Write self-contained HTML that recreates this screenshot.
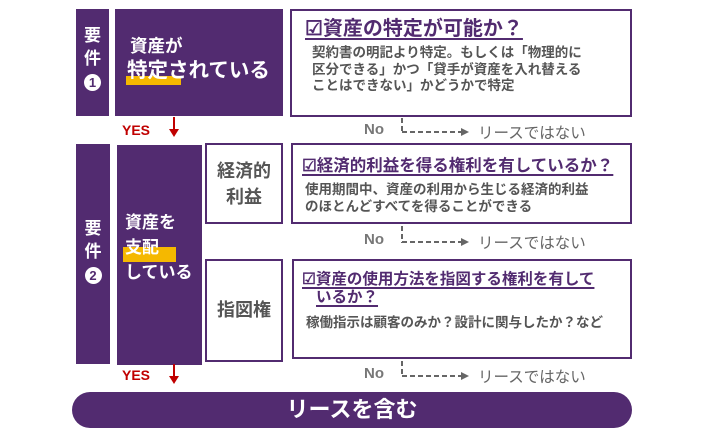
<!DOCTYPE html>
<html><head><meta charset="utf-8"><style>
body{margin:0;width:721px;height:437px;background:#fff;position:relative;overflow:hidden;font-family:"Liberation Sans","Noto Sans CJK JP",sans-serif;font-weight:bold}
.a{position:absolute}
.p{background:#522b70;color:#fff}
.b{border:2px solid #522b70;box-sizing:border-box;background:#fff}
.t{color:#522b70;text-decoration:underline;text-decoration-thickness:2px;text-underline-offset:3px;white-space:nowrap}
.g{color:#555;white-space:nowrap}
.y{background:#f5b800}
.red{color:#c00000}
</style></head><body>
<!-- row 1 -->
<div class="a p" style="left:76px;top:9px;width:33px;height:107px"></div>
<div class="a" style="left:76px;top:24px;width:33px;text-align:center;color:#fff;font-size:17px;line-height:23px">要<br>件<br><span style="display:inline-block;width:17px;height:17px;border-radius:50%;background:#fff;color:#522b70;font-size:13px;line-height:17px">1</span></div>
<div class="a p" style="left:115px;top:9px;width:168px;height:107px"></div>
<div class="a y" style="left:126px;top:76px;width:55px;height:9px"></div>
<div class="a" style="left:130px;top:35px;color:#fff;font-size:17.5px;line-height:22px">資産が</div>
<div class="a" style="left:127px;top:58px;color:#fff;font-size:20.5px;line-height:26px;white-space:nowrap">特定されている</div>
<div class="a b" style="left:290px;top:9px;width:342px;height:108px"></div>
<div class="a t" style="left:305px;top:17px;font-size:20px;line-height:25px">☑資産の特定が可能か？</div>
<div class="a g" style="left:312px;top:45px;font-size:13.5px;line-height:16.5px">契約書の明記より特定。もしくは「物理的に<br>区分できる」かつ「貸手が資産を入れ替える<br>ことはできない」かどうかで特定</div>
<!-- row 2 -->
<div class="a p" style="left:76px;top:144px;width:34px;height:220px"></div>
<div class="a" style="left:76px;top:217px;width:34px;text-align:center;color:#fff;font-size:17px;line-height:23px">要<br>件<br><span style="display:inline-block;width:17px;height:17px;border-radius:50%;background:#fff;color:#522b70;font-size:13px;line-height:17px">2</span></div>
<div class="a p" style="left:117px;top:145px;width:85px;height:220px"></div>
<div class="a y" style="left:123px;top:247px;width:53px;height:15px"></div>
<div class="a" style="left:125px;top:210px;color:#fff;font-size:17px;line-height:25px;white-space:nowrap">資産を<br>支配<br>している</div>
<div class="a b" style="left:205px;top:143px;width:78px;height:81px;text-align:center;color:#555;font-size:18px;line-height:26px;padding-top:13px">経済的<br>利益</div>
<div class="a b" style="left:205px;top:259px;width:78px;height:103px;text-align:center;color:#555;font-size:18px;line-height:26px;padding-top:36px">指図権</div>
<div class="a b" style="left:291px;top:143px;width:341px;height:81px"></div>
<div class="a t" style="left:302px;top:156px;font-size:16.5px;line-height:21px">☑経済的利益を得る権利を有しているか？</div>
<div class="a g" style="left:305px;top:181px;font-size:13.5px;line-height:17px">使用期間中、資産の利用から生じる経済的利益<br>のほとんどすべてを得ることができる</div>
<div class="a b" style="left:292px;top:259px;width:340px;height:100px"></div>
<div class="a t" style="left:302px;top:271px;font-size:15.5px;line-height:18px">☑資産の使用方法を指図する権利を有して</div>
<div class="a t" style="left:316px;top:289px;font-size:15.5px;line-height:18px">いるか？</div>
<div class="a g" style="left:306px;top:314px;font-size:13.5px;line-height:18px">稼働指示は顧客のみか？設計に関与したか？など</div>
<!-- YES -->
<div class="a red" style="left:122px;top:122px;font-size:14px;line-height:16px">YES</div>
<div class="a red" style="left:122px;top:367px;font-size:14px;line-height:16px">YES</div>
<svg class="a" style="left:0;top:0" width="721" height="437">
<g fill="#c00000" stroke="#c00000" stroke-width="2">
<line x1="174" y1="117" x2="174" y2="130"/><polygon points="169,129 179,129 174,137" stroke="none"/>
<line x1="174" y1="364" x2="174" y2="377"/><polygon points="169,376 179,376 174,384" stroke="none"/>
</g>
<g stroke="#666" stroke-width="2" stroke-dasharray="5,3" fill="#666">
<line x1="402" y1="118" x2="402" y2="133"/><line x1="402" y1="132" x2="462" y2="132"/>
<line x1="402" y1="226" x2="402" y2="243"/><line x1="402" y1="242" x2="462" y2="242"/>
<line x1="402" y1="361" x2="402" y2="377"/><line x1="402" y1="376" x2="462" y2="376"/>
</g>
<g fill="#666"><polygon points="461,128 469,132 461,136"/><polygon points="461,238 469,242 461,246"/><polygon points="461,372 469,376 461,380"/></g>
</svg>
<div class="a" style="left:364px;top:121px;color:#777;font-size:15px">No</div>
<div class="a" style="left:364px;top:231px;color:#777;font-size:15px">No</div>
<div class="a" style="left:364px;top:365px;color:#777;font-size:15px">No</div>
<div class="a g" style="left:472px;top:121px;font-size:15.5px;font-weight:normal;color:#666;background:#fff;padding:0 6px">リースではない</div>
<div class="a g" style="left:478px;top:231px;font-size:15.5px;font-weight:normal;color:#666">リースではない</div>
<div class="a g" style="left:478px;top:365px;font-size:15.5px;font-weight:normal;color:#666">リースではない</div>
<div class="a p" style="left:72px;top:392px;width:560px;height:36px;border-radius:18px;text-align:center;font-size:22px;line-height:36px">リースを含む</div>
</body></html>
